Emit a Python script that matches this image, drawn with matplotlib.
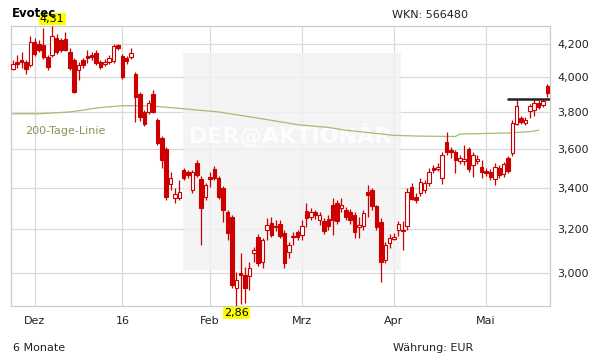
import numpy as np
import matplotlib.pyplot as plt
from matplotlib.patches import Rectangle
from matplotlib.ticker import FixedLocator, NullLocator

# daily OHLC, 24 Nov 2015 .. 20 May 2016 (trading days)
opens = [4.049, 4.091, 4.103, 4.091, 4.073, 4.212, 4.200, 4.194, 4.121, 4.133,
         4.237, 4.225, 4.231, 4.151, 4.103, 4.043, 4.103, 4.127, 4.133, 4.145,
         4.091, 4.079, 4.091, 4.097, 4.194, 4.127, 4.115, 4.121, 4.019, 3.903,
         3.800, 3.800, 3.903, 3.757, 3.659, 3.600, 3.420, 3.351, 3.351, 3.491,
         3.481, 3.390, 3.527, 3.445, 3.356, 3.455, 3.496, 3.450, 3.400, 3.282,
         3.258, 2.937, 3.002, 2.993, 2.989, 3.091, 3.164, 3.050, 3.197, 3.229,
         3.215, 3.225, 3.183, 3.095, 3.169, 3.188, 3.173, 3.287, 3.258, 3.282,
         3.244, 3.239, 3.248, 3.316, 3.326, 3.301, 3.292, 3.282, 3.268, 3.211,
         3.215, 3.380, 3.390, 3.311, 3.234, 3.059, 3.136, 3.155, 3.197, 3.197,
         3.215, 3.405, 3.356, 3.375, 3.390, 3.425, 3.501, 3.496, 3.450, 3.638,
         3.595, 3.585, 3.538, 3.538, 3.600, 3.517, 3.538, 3.507, 3.486, 3.481,
         3.445, 3.501, 3.471, 3.553, 3.579, 3.735, 3.768, 3.740, 3.806, 3.812,
         3.851, 3.840, 3.949]
highs = [4.103, 4.133, 4.151, 4.103, 4.250, 4.237, 4.225, 4.299, 4.133, 4.310,
         4.262, 4.237, 4.274, 4.175, 4.115, 4.091, 4.115, 4.163, 4.151, 4.163,
         4.103, 4.109, 4.133, 4.200, 4.200, 4.139, 4.127, 4.175, 4.031, 3.914,
         3.812, 3.869, 3.926, 3.768, 3.670, 3.611, 3.481, 3.400, 3.440, 3.501,
         3.491, 3.491, 3.543, 3.460, 3.425, 3.481, 3.512, 3.460, 3.410, 3.292,
         3.268, 3.006, 3.091, 3.028, 3.050, 3.118, 3.178, 3.159, 3.253, 3.258,
         3.244, 3.244, 3.197, 3.141, 3.188, 3.197, 3.244, 3.326, 3.301, 3.292,
         3.282, 3.253, 3.268, 3.351, 3.341, 3.351, 3.306, 3.296, 3.282, 3.258,
         3.292, 3.415, 3.400, 3.316, 3.253, 3.141, 3.178, 3.183, 3.239, 3.239,
         3.400, 3.425, 3.375, 3.450, 3.440, 3.501, 3.517, 3.527, 3.585, 3.691,
         3.611, 3.595, 3.569, 3.622, 3.611, 3.585, 3.569, 3.543, 3.501, 3.496,
         3.527, 3.517, 3.532, 3.564, 3.757, 3.875, 3.779, 3.774, 3.845, 3.875,
         3.869, 3.875, 3.960]
lows = [4.043, 4.055, 4.055, 4.019, 4.061, 4.127, 4.151, 4.109, 4.043, 4.121,
        4.139, 4.151, 4.157, 4.043, 3.909, 3.984, 4.055, 4.085, 4.103, 4.073,
        4.049, 4.067, 4.079, 4.085, 4.163, 3.990, 4.079, 4.109, 3.746, 3.752,
        3.724, 3.790, 3.795, 3.622, 3.501, 3.341, 3.390, 3.326, 3.341, 3.440,
        3.450, 3.375, 3.455, 3.127, 3.341, 3.405, 3.440, 3.346, 3.234, 3.150,
        2.937, 2.860, 2.870, 2.873, 2.928, 3.050, 3.033, 3.024, 3.150, 3.164,
        3.192, 3.159, 3.024, 3.068, 3.127, 3.150, 3.150, 3.211, 3.244, 3.248,
        3.220, 3.178, 3.197, 3.173, 3.225, 3.282, 3.244, 3.225, 3.159, 3.159,
        3.197, 3.258, 3.292, 3.197, 2.962, 3.046, 3.114, 3.150, 3.169, 3.104,
        3.197, 3.341, 3.326, 3.361, 3.375, 3.410, 3.476, 3.486, 3.420, 3.569,
        3.553, 3.476, 3.522, 3.517, 3.481, 3.455, 3.522, 3.450, 3.461, 3.440,
        3.415, 3.450, 3.455, 3.476, 3.564, 3.729, 3.735, 3.729, 3.768, 3.779,
        3.817, 3.829, 3.886]
closes = [4.079, 4.079, 4.091, 4.049, 4.212, 4.139, 4.163, 4.121, 4.061, 4.250,
          4.151, 4.163, 4.163, 4.055, 3.914, 4.073, 4.073, 4.115, 4.121, 4.085,
          4.061, 4.091, 4.115, 4.188, 4.176, 4.000, 4.097, 4.145, 3.886, 3.774,
          3.735, 3.851, 3.800, 3.632, 3.543, 3.356, 3.450, 3.371, 3.380, 3.450,
          3.466, 3.481, 3.466, 3.301, 3.415, 3.445, 3.450, 3.356, 3.292, 3.183,
          2.949, 2.971, 2.993, 2.937, 3.024, 3.104, 3.046, 3.150, 3.220, 3.173,
          3.211, 3.169, 3.046, 3.127, 3.164, 3.164, 3.215, 3.253, 3.282, 3.268,
          3.268, 3.192, 3.215, 3.244, 3.239, 3.316, 3.258, 3.244, 3.188, 3.220,
          3.277, 3.366, 3.311, 3.211, 3.050, 3.127, 3.159, 3.164, 3.225, 3.192,
          3.380, 3.346, 3.341, 3.430, 3.425, 3.481, 3.491, 3.507, 3.569, 3.585,
          3.585, 3.543, 3.553, 3.548, 3.496, 3.569, 3.548, 3.481, 3.476, 3.455,
          3.507, 3.466, 3.522, 3.486, 3.740, 3.834, 3.746, 3.757, 3.834, 3.851,
          3.829, 3.863, 3.909]

# 200-day moving average (read at a few points)
ma_idx = [0, 6, 13, 20, 25, 31, 38, 47, 57, 65, 72, 76, 82, 87, 93, 101, 102, 113, 118, 120]
ma_val = [3.790, 3.790, 3.800, 3.825, 3.835, 3.835, 3.820, 3.800, 3.762, 3.730,
          3.715, 3.700, 3.685, 3.672, 3.668, 3.666, 3.679, 3.685, 3.692, 3.700]

resist_level = 3.875
resist_from = 112.7

month_idx = [5, 25, 45, 66, 87, 108]
month_labels = ['Dez', '16', 'Feb', 'Mrz', 'Apr', 'Mai']
price_ticks = [3.0, 3.2, 3.4, 3.6, 3.8, 4.0, 4.2]
price_labels = ['3,000', '3,200', '3,400', '3,600', '3,800', '4,000', '4,200']

red = '#cc0000'
txt = '#222222'

o = np.array(opens); h = np.array(highs); l = np.array(lows); c = np.array(closes)
x = np.arange(len(o))
up = c >= o

fig = plt.figure(figsize=(6.11, 3.64), dpi=100)
ax = fig.add_axes([0.0175, 0.1593, 0.8827, 0.7693])
ax.set_yscale('log')
ax.set_ylim(2.86, 4.31)
ax.set_xlim(-0.48, 122.6)

ax.yaxis.set_major_locator(FixedLocator(price_ticks))
ax.yaxis.set_minor_locator(NullLocator())
ax.set_yticklabels(price_labels)
ax.set_xticks(month_idx)
ax.set_xticklabels(month_labels)
ax.yaxis.tick_right()
ax.tick_params(axis='y', length=0, pad=5, labelsize=8, labelcolor=txt)
ax.tick_params(axis='x', length=0, pad=7, labelsize=8, labelcolor=txt)
ax.grid(True, color='#dadada', lw=0.9, zorder=0)
ax.set_axisbelow(True)
for s in ax.spines.values():
    s.set_color('#cccccc')
    s.set_linewidth(0.9)

# watermark
ax.add_patch(Rectangle((0.3195, 0.1286), 0.4042, 0.775, transform=ax.transAxes,
                       color='#f2f2f2', alpha=0.8, lw=0, zorder=1))
ax.text(0.518, 0.611, 'DER@AKTIONÄR', transform=ax.transAxes, ha='center', va='center',
        fontsize=16, fontweight='bold', color='white', alpha=0.9, zorder=1.5)

# 200-Tage-Linie
ax.plot(ma_idx, ma_val, color='#9fbf6f', lw=0.9, zorder=2)
ax.text(0.0265, 0.625, '200-Tage-Linie', transform=ax.transAxes, va='center',
        fontsize=8, color='#86955a')

# candles
ax.vlines(x, l, h, color=red, lw=0.9, zorder=3)
ax.bar(x, np.maximum(np.abs(c - o), 0.003), bottom=np.minimum(o, c), width=0.8,
       color=np.where(up, 'white', red), edgecolor=red, linewidth=0.8, zorder=4)

ax.hlines(resist_level, resist_from, ax.get_xlim()[1], color='#222222', lw=1.8, zorder=5)

# high / low markers
ih = int(np.argmax(h)); il = int(np.argmin(l))
ax.annotate(f'{h[ih]:.2f}'.replace('.', ','), xy=(ih, h[ih]), xytext=(0, 1.5),
            textcoords='offset points', ha='center', va='bottom', fontsize=8, color='black',
            bbox=dict(boxstyle='square,pad=0.12', fc='#ffff00', ec='none'),
            annotation_clip=False, zorder=6)
ax.annotate(f'{l[il]:.2f}'.replace('.', ','), xy=(il, l[il]), xytext=(0, -1.5),
            textcoords='offset points', ha='center', va='top', fontsize=8, color='black',
            bbox=dict(boxstyle='square,pad=0.12', fc='#ffff00', ec='none'),
            annotation_clip=False, zorder=6)

fig.text(12 / 611, 1 - 17 / 364, 'Evotec', fontsize=8.5, fontweight='bold', color='black', va='baseline')
fig.text(392 / 611, 1 - 18 / 364, 'WKN: 566480', fontsize=8, color=txt, va='baseline')
fig.text(12.6 / 611, 1 - 351 / 364, '6 Monate', fontsize=8, color=txt, va='baseline')
fig.text(393 / 611, 1 - 351 / 364, 'Währung: EUR', fontsize=8, color=txt, va='baseline')

fig.savefig('out.png', dpi=100)
